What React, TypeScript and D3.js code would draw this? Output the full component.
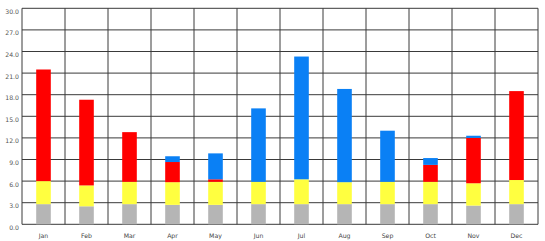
import React from "react";
import * as d3 from "d3";

const months = ["Jan", "Feb", "Mar", "Apr", "May", "Jun", "Jul", "Aug", "Sep", "Oct", "Nov", "Dec"];
const greyVals = [2.8, 2.5, 2.8, 2.7, 2.7, 2.8, 2.8, 2.8, 2.8, 2.8, 2.6, 2.8];
const yellowVals = [3.2, 2.9, 3.1, 3.15, 3.2, 3.1, 3.45, 3.05, 3.1, 3.1, 3.1, 3.35];
const redVals = [15.5, 11.9, 6.9, 2.8, 0.35, 0, 0, 0, 0, 2.35, 6.3, 12.35];
const blueVals = [0, 0, 0, 0.8, 3.6, 10.2, 17.05, 12.95, 7.1, 0.95, 0.3, 0];
const yTicks = [0, 3, 6, 9, 12, 15, 18, 21, 24, 27, 30];

const seriesKeys = ["grey", "yellow", "red", "blue"];
const seriesColors: Record<string, string> = {
  grey: "#b5b5b5",
  yellow: "#ffff40",
  red: "#ff0000",
  blue: "#0a80f5",
};

export default function App() {
  const W = 545, H = 241;
  const left = 22, right = 538, top = 8.3, bottom = 224.3;

  const rows = months.map((m, i) => ({
    month: m,
    grey: greyVals[i],
    yellow: yellowVals[i],
    red: redVals[i],
    blue: blueVals[i],
  }));
  const stacked = d3.stack<any>().keys(seriesKeys)(rows);

  const x = d3.scaleBand<string>().domain(months).range([left, right]).padding(0);
  const y = d3.scaleLinear().domain([0, 30]).range([bottom, top]);
  const bw = x.bandwidth() * 0.34;

  const font = "DejaVu Sans, Verdana, sans-serif";

  return (
    <svg width={W} height={H} style={{ position: "absolute", left: 0, top: 0, background: "#fff" }}>
      {/* horizontal grid */}
      {yTicks.map((t) => (
        <line key={"h" + t} x1={left} x2={right} y1={y(t)} y2={y(t)} stroke="#3a3a3a" strokeWidth={1} />
      ))}
      {/* vertical grid */}
      {months.map((m) => (
        <line key={"v" + m} x1={x(m)!} x2={x(m)!} y1={top} y2={bottom} stroke="#3a3a3a" strokeWidth={1} />
      ))}
      <line x1={right} x2={right} y1={top} y2={bottom} stroke="#3a3a3a" strokeWidth={1} />
      {/* bars */}
      {stacked.map((s) => (
        <g key={s.key} fill={seriesColors[s.key]}>
          {s.map((d, i) =>
            d[1] - d[0] > 0 ? (
              <rect
                key={i}
                x={x(months[i])! + x.bandwidth() / 2 - bw / 2}
                width={bw}
                y={y(d[1])}
                height={y(d[0]) - y(d[1])}
              />
            ) : null
          )}
        </g>
      ))}
      {/* y labels */}
      {yTicks.map((t) => (
        <text
          key={"yl" + t}
          x={19}
          y={y(t) + 5.5}
          textAnchor="end"
          fontFamily={font}
          fontSize={6.2}
          fill="#555"
        >
          {t.toFixed(1)}
        </text>
      ))}
      {/* x labels */}
      {months.map((m) => (
        <text
          key={"xl" + m}
          x={x(m)! + x.bandwidth() / 2}
          y={237.5}
          textAnchor="middle"
          fontFamily={font}
          fontSize={6.2}
          fill="#444"
        >
          {m}
        </text>
      ))}
    </svg>
  );
}
